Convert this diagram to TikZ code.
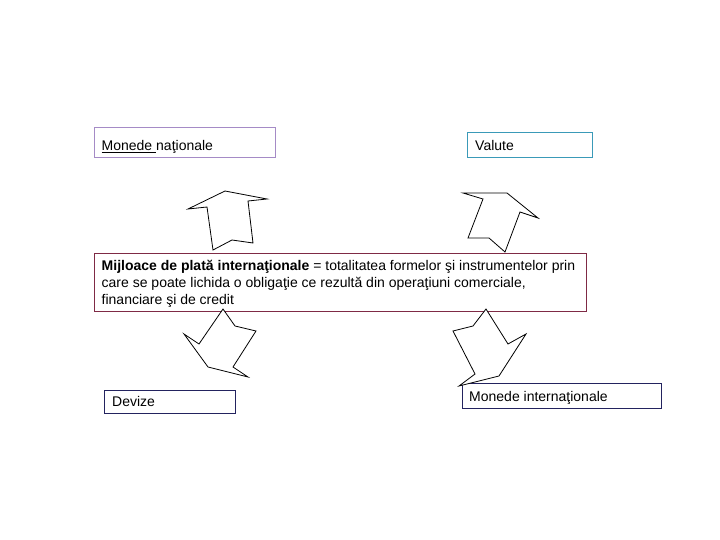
\documentclass[tikz,border=0pt]{standalone}
\usepackage{fontspec}
\setmainfont{Liberation Sans}
\definecolor{cpurple}{HTML}{A58BC6}
\definecolor{cteal}{HTML}{3A9AB8}
\definecolor{cmaroon}{HTML}{7F2A45}
\definecolor{cnavy}{HTML}{23235F}
\tikzset{
  box/.style={draw=#1, line width=1pt},
  lbl/.style={anchor=base west, inner sep=0pt, font=\fontsize{14}{17}\selectfont},
  arrowshape/.style={draw=black, line width=0.8pt, fill=white, line join=miter}
}
\begin{document}
\begin{tikzpicture}[x=1pt,y=-1pt]
\useasboundingbox (0,0) rectangle (720,540);
% boxes
\draw[box=cpurple] (94,128) rectangle (275,158);
\draw[box=cteal] (467,133) rectangle (592,158);
\draw[box=cmaroon] (94,253) rectangle (586,311);
\draw[box=cnavy] (104,390) rectangle (235,413);
\draw[box=cnavy] (462,383) rectangle (661,408);
% labels
\node[lbl] (mn) at (101.5,151) {\underline{Monede }naţionale};
\node[lbl] (va) at (475,151) {Valute};
\node[lbl] (m1) at (101.5,270) {\textbf{Mijloace de plată internaţionale} = totalitatea formelor şi instrumentelor prin};
\node[lbl] (m2) at (101.5,287) {care se poate lichida o obligaţie ce rezultă din operaţiuni comerciale,};
\node[lbl] (m3) at (101.5,304) {financiare şi de credit};
\node[lbl] (dv) at (112,406.5) {Devize};
\node[lbl] (mi) at (469,401) {Monede internaţionale};
% arrows
\draw[arrowshape] (225,191) -- (267,199) -- (248,201) -- (253,243) -- (232,240) -- (213,250) -- (207,207) -- (188,209) -- cycle;
\draw[arrowshape] (463,193) -- (507,193) -- (538,218) -- (520,212) -- (505,252) -- (489,238) -- (468,238) -- (483,199) -- cycle;
\draw[arrowshape] (223,309) -- (235,326) -- (256,331) -- (233,367) -- (248,377) -- (208,367) -- (184,334) -- (199,344) -- cycle;
\draw[arrowshape] (486,309) -- (508,344) -- (526,334) -- (499,376) -- (459,386) -- (475,374) -- (453,331) -- (473,326) -- cycle;
\end{tikzpicture}
\end{document}
